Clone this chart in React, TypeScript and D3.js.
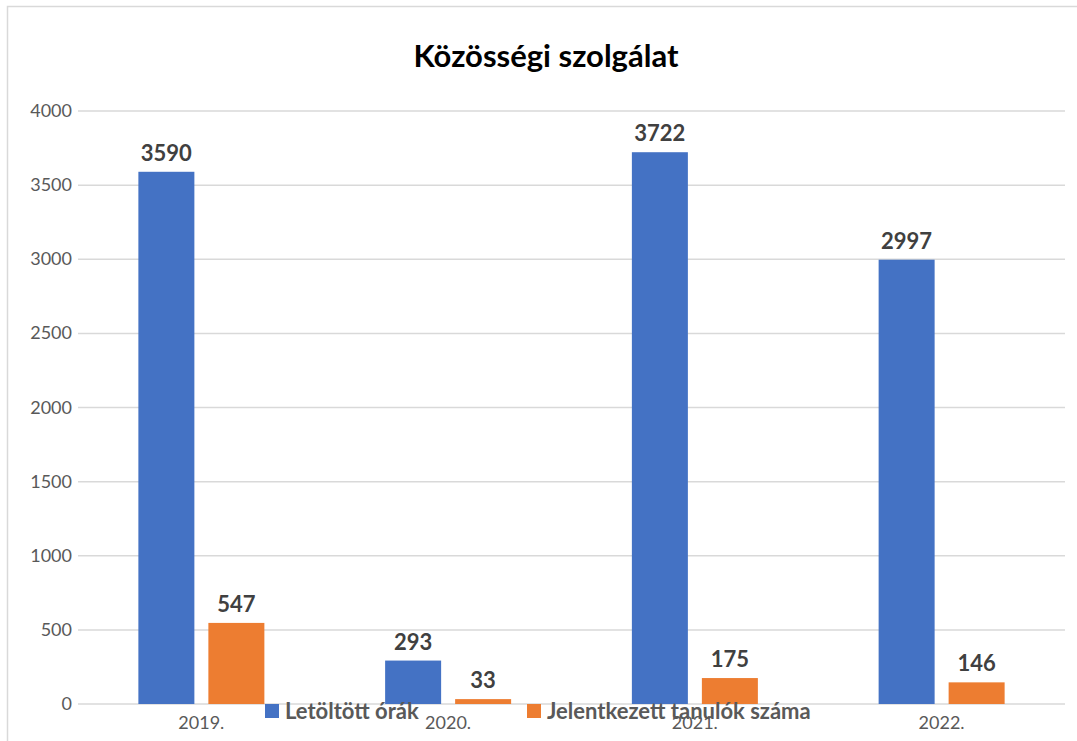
import React, { useEffect, useRef } from 'react';
import * as d3 from 'd3';

const years = ['2019.', '2020.', '2021.', '2022.'];
const hours = [3590, 293, 3722, 2997];
const students = [547, 33, 175, 146];
const seriesNames = ['Letöltött órák', 'Jelentkezett tanulók száma'];
const colors = ['#4472C4', '#ED7D31'];
const yTicks = [0, 500, 1000, 1500, 2000, 2500, 3000, 3500, 4000];

const W = 1077;
const H = 741;

const App = () => {
  const ref = useRef<SVGSVGElement>(null);

  useEffect(() => {
    const svg = d3.select(ref.current);
    svg.selectAll('*').remove();

    const font = 'Lato, Carlito, "Noto Sans", sans-serif';

    // chart border
    svg.append('rect')
      .attr('x', 7.5).attr('y', 6.5)
      .attr('width', W + 10).attr('height', H + 10)
      .attr('fill', '#fff').attr('stroke', '#d9d9d9').attr('stroke-width', 1.5);

    const left = 78, right = 1065;
    const x = d3.scaleBand().domain(years).range([left, right]);
    const y = d3.scaleLinear().domain([0, 4000]).range([704, 111]);

    // grid
    svg.append('g').selectAll('line')
      .data(yTicks)
      .enter().append('line')
      .attr('x1', left).attr('x2', right)
      .attr('y1', d => y(d)).attr('y2', d => y(d))
      .attr('stroke', '#d9d9d9').attr('stroke-width', 1.5);

    // y labels
    svg.append('g').selectAll('text')
      .data(yTicks)
      .enter().append('text')
      .text(d => d)
      .attr('x', 72).attr('y', d => y(d) + 6)
      .attr('text-anchor', 'end')
      .style('font-family', font).style('font-size', '18px').attr('fill', '#595959');

    // x labels
    svg.append('g').selectAll('text')
      .data(years)
      .enter().append('text')
      .text(d => d)
      .attr('x', d => x(d)! + x.bandwidth() / 2).attr('y', 729)
      .attr('text-anchor', 'middle')
      .style('font-family', font).style('font-size', '18px').attr('fill', '#595959');

    const barW = 56, gap = 14;
    const series = [hours, students];
    series.forEach((vals, si) => {
      const off = si === 0 ? -gap / 2 - barW : gap / 2;
      const g = svg.append('g');
      g.selectAll('rect')
        .data(vals)
        .enter().append('rect')
        .attr('x', (d, i) => x(years[i])! + x.bandwidth() / 2 + off)
        .attr('y', d => y(d))
        .attr('width', barW)
        .attr('height', d => y(0) - y(d))
        .attr('fill', colors[si]);
      g.selectAll('text')
        .data(vals)
        .enter().append('text')
        .text(d => d)
        .attr('x', (d, i) => x(years[i])! + x.bandwidth() / 2 + off + barW / 2)
        .attr('y', d => y(d) - 11)
        .attr('text-anchor', 'middle')
        .style('font-family', font).style('font-size', '22px').style('font-weight', 'bold')
        .attr('fill', '#404040');
    });

    // title
    svg.append('text')
      .text('Közösségi szolgálat')
      .attr('x', 546).attr('y', 67)
      .attr('text-anchor', 'middle')
      .style('font-family', font).style('font-size', '31px').style('font-weight', 'bold')
      .attr('fill', '#000');

    // legend
    const legendX = [265, 527];
    seriesNames.forEach((name, i) => {
      svg.append('rect')
        .attr('x', legendX[i]).attr('y', 704)
        .attr('width', 14).attr('height', 14)
        .attr('fill', colors[i]);
      svg.append('text')
        .text(name)
        .attr('x', legendX[i] + 20).attr('y', 719)
        .style('font-family', font).style('font-size', '22px').style('font-weight', 'bold')
        .attr('fill', '#595959');
    });
  }, []);

  return <svg ref={ref} width={W} height={H} style={{ position: 'absolute', left: 0, top: 0 }}></svg>;
};

export default App;
